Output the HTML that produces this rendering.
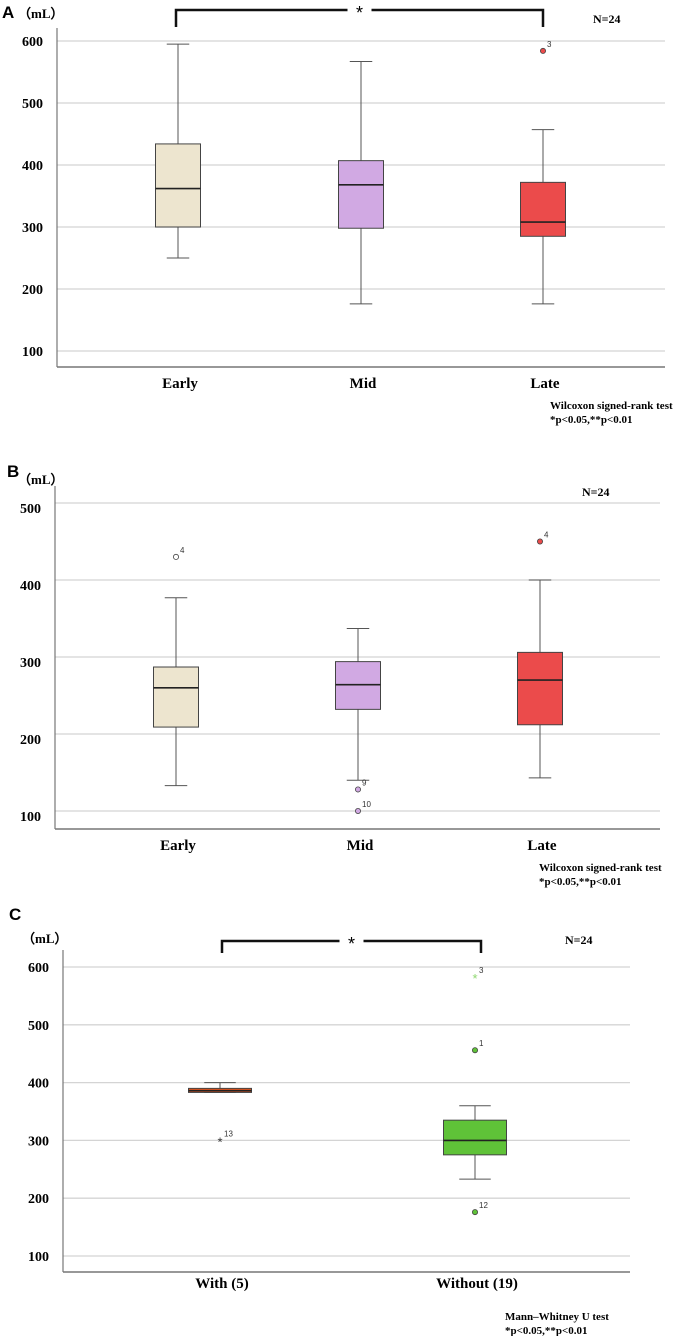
<!DOCTYPE html>
<html><head><meta charset="utf-8"><style>
html,body{margin:0;padding:0;background:#fff;}
svg{display:block;font-family:"Liberation Serif",serif;}
.t{font-weight:bold;}
</style></head><body>
<svg id="s" width="685" height="1336" viewBox="0 0 685 1336" xmlns="http://www.w3.org/2000/svg"></svg>
<script>
// Panel A data
const aCats = ["Early","Mid","Late"];
const aWhiskLo = [250,176,176];
const aQ1 = [300,298,285];
const aMed = [362,368,308];
const aQ3 = [434,407,372];
const aWhiskHi = [595,567,457];
const aOutliers = [[],[],[[584,"3","circle"]]];
const aTicks = [100,200,300,400,500,600];
// Panel B data
const bCats = ["Early","Mid","Late"];
const bWhiskLo = [133,140,143];
const bQ1 = [209,232,212];
const bMed = [260,264,270];
const bQ3 = [287,294,306];
const bWhiskHi = [377,337,400];
const bOutliers = [[[430,"4","open"]],[[128,"9","circle"],[100,"10","circle"]],[[450,"4","circle"]]];
const bTicks = [100,200,300,400,500];
// Panel C data
const cCats = ["With (5)","Without (19)"];
const cWhiskLo = [383,233];
const cQ1 = [383,275];
const cMed = [386,300];
const cQ3 = [390,335];
const cWhiskHi = [400,360];
const cOutliers = [[[300,"13","star"]],[[583,"3","star"],[456,"1","circle"],[176,"12","circle"]]];
const cTicks = [100,200,300,400,500,600];

const NS="http://www.w3.org/2000/svg";
const svg=document.getElementById('s');
function mk(tag,attrs,parent,txt){const e=document.createElementNS(NS,tag);for(const k in attrs)e.setAttribute(k,attrs[k]);if(txt!==undefined)e.textContent=txt;(parent||svg).appendChild(e);return e;}

function panel(cfg){
  const g=mk('g',{});
  
  
  const y=v=>cfg.y0-(v-cfg.v0)*cfg.pxPer;
  const lbl=mk('text',{x:cfg.letterX,y:cfg.letterY,'font-family':'Liberation Sans, sans-serif','font-weight':'bold','font-size':17},g,cfg.id);
  
  
  const u=mk('text',{x:cfg.unitX,y:cfg.unitY,'font-size':13,class:'t'},g,'（mL）');
  
  
  cfg.ticks.forEach(t=>{
    const gl=mk('line',{x1:cfg.ax,x2:cfg.right,y1:y(t),y2:y(t),stroke:'#d4d4d4','stroke-width':1.3},g);
    
    
    const tl=mk('text',{x:cfg.ax-14,y:y(t)+5+cfg.tickOff,'text-anchor':'end','font-size':14,class:'t'},g,String(t));
    
    
  });
  const ya=mk('line',{x1:cfg.ax,x2:cfg.ax,y1:cfg.axTop,y2:cfg.axBot,stroke:'#777','stroke-width':1.2},g);
  
  
  const xa=mk('line',{x1:cfg.ax,x2:cfg.right,y1:cfg.axBot,y2:cfg.axBot,stroke:'#777','stroke-width':1.5},g);
  
  
  cfg.cats.forEach((c,i)=>{
    const cx=cfg.cx[i], w=cfg.bw;
    const bg=mk('g',{},g);
    
    
    mk('line',{x1:cx,x2:cx,y1:y(cfg.hi[i]),y2:y(cfg.q3[i]),stroke:'#555','stroke-width':1},bg);
    mk('line',{x1:cx,x2:cx,y1:y(cfg.q1[i]),y2:y(cfg.lo[i]),stroke:'#555','stroke-width':1},bg);
    mk('line',{x1:cx-w/4,x2:cx+w/4,y1:y(cfg.hi[i]),y2:y(cfg.hi[i]),stroke:'#555','stroke-width':1},bg);
    mk('line',{x1:cx-w/4,x2:cx+w/4,y1:y(cfg.lo[i]),y2:y(cfg.lo[i]),stroke:'#555','stroke-width':1},bg);
    mk('rect',{x:cx-w/2,y:y(cfg.q3[i]),width:w,height:Math.max(1,y(cfg.q1[i])-y(cfg.q3[i])),fill:cfg.colors[i],stroke:'#444','stroke-width':1},bg);
    mk('line',{x1:cx-w/2,x2:cx+w/2,y1:y(cfg.med[i]),y2:y(cfg.med[i]),stroke:'#222','stroke-width':1.6},bg);
    cfg.out[i].forEach(o=>{
      const oy=y(o[0]);
      let m;
      if(o[2]==='star'){
        m=mk('text',{x:cx,y:oy+6,'text-anchor':'middle','font-size':13,fill:cfg.starColors[i],'font-family':'Liberation Sans, sans-serif'},bg,'*');
      } else {
        m=mk('circle',{cx:cx,cy:oy,r:2.6,fill:o[2]==='open'?'#fff':cfg.colors[i],stroke:'#444','stroke-width':0.8},bg);
      }
      
      
      const ol=mk('text',{x:cx+4,y:oy-4,'font-size':8,'font-family':'Liberation Sans, sans-serif',fill:'#333'},bg,o[1]);
      
      
    });
    const xl=mk('text',{x:cx+2,y:cfg.catY,'text-anchor':'middle','font-size':15,class:'t'},g,c);
    
    
  });
  const n=mk('text',{x:cfg.nX,y:cfg.nY,'font-size':12,class:'t'},g,'N=24');
  
  
  const t1=mk('text',{x:cfg.testX,y:cfg.testY,'font-size':11,class:'t'},g,cfg.test);
  
  
  const t2=mk('text',{x:cfg.testX,y:cfg.testY+14,'font-size':11,class:'t'},g,'*p<0.05,**p<0.01');
  
  
  if(cfg.br){
    const b=cfg.br;
    const bk=mk('g',{},g);
    
    
    const mid=(b.x1+b.x2)/2;
    mk('path',{d:`M${b.x1},${b.yb} L${b.x1},${b.yt} L${mid-12},${b.yt} M${mid+12},${b.yt} L${b.x2},${b.yt} L${b.x2},${b.yb}`,fill:'none',stroke:'#111','stroke-width':2.5},bk);
    mk('text',{x:mid,y:b.yt+9,'text-anchor':'middle','font-size':18,'font-family':'Liberation Sans, sans-serif'},bk,'*');
  }
}

panel({id:'A',letterX:2,letterY:18,unitX:18,unitY:18,ax:57,right:665,axTop:28,axBot:367,y0:351,v0:100,pxPer:0.62,tickOff:0,
  ticks:aTicks,cats:aCats,lo:aWhiskLo,q1:aQ1,med:aMed,q3:aQ3,hi:aWhiskHi,out:aOutliers,
  cx:[178,361,543],bw:45,colors:['#ede5cf','#d1a9e3','#eb4b4b'],starColors:['#333','#333','#333'],catY:388,
  nX:593,nY:23,test:'Wilcoxon signed-rank test',testX:550,testY:409,br:{x1:176,x2:543,yt:10,yb:27}});
panel({id:'B',letterX:7,letterY:477,unitX:18,unitY:484,ax:55,right:660,axTop:486,axBot:829,y0:811,v0:100,pxPer:0.77,tickOff:5,
  ticks:bTicks,cats:bCats,lo:bWhiskLo,q1:bQ1,med:bMed,q3:bQ3,hi:bWhiskHi,out:bOutliers,
  cx:[176,358,540],bw:45,colors:['#ede5cf','#d1a9e3','#eb4b4b'],starColors:['#333','#333','#333'],catY:850,
  nX:582,nY:496,test:'Wilcoxon signed-rank test',testX:539,testY:871});
panel({id:'C',letterX:9,letterY:920,unitX:22,unitY:943,ax:63,right:630,axTop:950,axBot:1272,y0:1256,v0:100,pxPer:0.578,tickOff:0,
  ticks:cTicks,cats:cCats,lo:cWhiskLo,q1:cQ1,med:cMed,q3:cQ3,hi:cWhiskHi,out:cOutliers,
  cx:[220,475],bw:63,colors:['#e8561e','#5fc238'],starColors:['#333','#8fd870'],catY:1288,
  nX:565,nY:944,test:'Mann–Whitney U test',testX:505,testY:1320,br:{x1:222,x2:481,yt:941,yb:953}});
</script>
</body></html>
